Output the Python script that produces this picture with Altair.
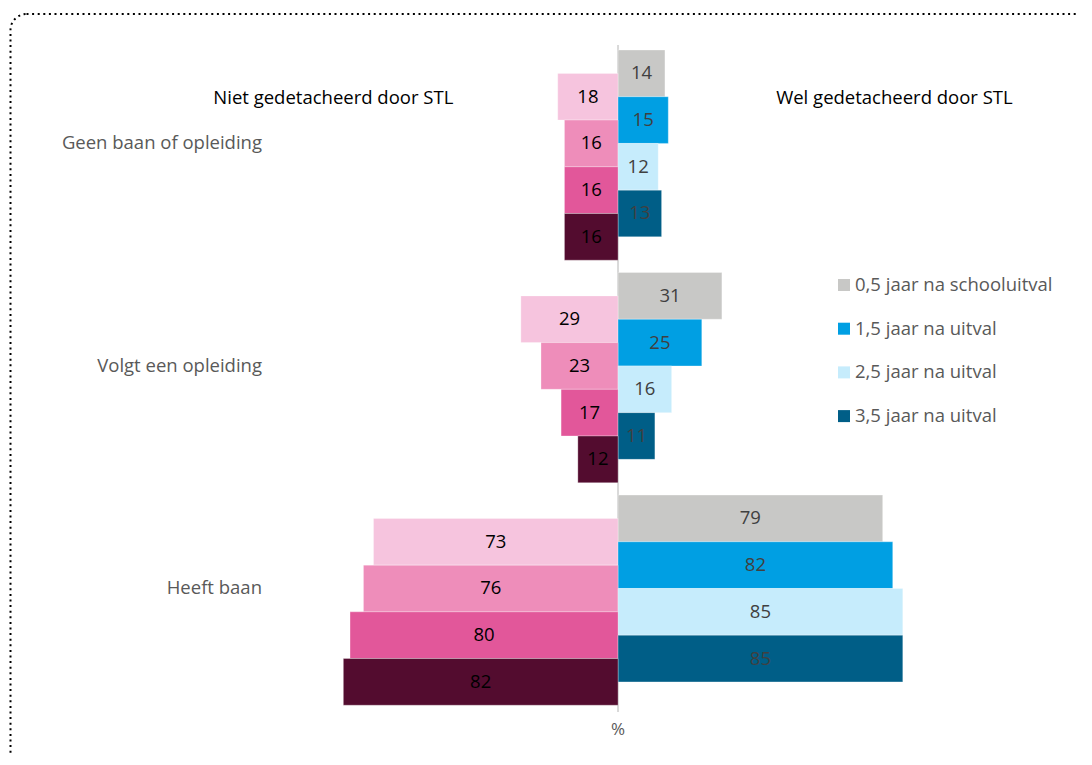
import altair as alt
import pandas as pd

FONT = "Open Sans"
FS = 18.5

categories = ["Geen baan of opleiding", "Volgt een opleiding", "Heeft baan"]
periods = ["0,5 jaar na schooluitval", "1,5 jaar na uitval", "2,5 jaar na uitval", "3,5 jaar na uitval"]
niet_values = [[18, 16, 16, 16], [29, 23, 17, 12], [73, 76, 80, 82]]
wel_values = [[14, 15, 12, 13], [31, 25, 16, 11], [79, 82, 85, 85]]
side_titles = ["Niet gedetacheerd door STL", "Wel gedetacheerd door STL"]
niet_colors = ["#F6C4DE", "#EE8DBA", "#E2579A", "#530C2F"]
wel_colors = ["#C8C8C6", "#009FE3", "#C6ECFC", "#005E87"]
axis_label = "%"

rows = []
for ci, cat in enumerate(categories):
    for pi, per in enumerate(periods):
        rows.append(dict(cat=cat, cat_i=ci, period=per, period_i=pi, side="Wel",
                         shift=0.0, value=wel_values[ci][pi], key=per))
        rows.append(dict(cat=cat, cat_i=ci, period=per, period_i=pi, side="Niet",
                         shift=0.5, value=niet_values[ci][pi], key="Niet " + per))
df = pd.DataFrame(rows)

color_domain = periods + ["Niet " + p for p in periods]
color_range = wel_colors + niet_colors

W, H = 1070, 745
BAR = 46.7
STEP = 4.765
TOP0 = 0.9

xscale = alt.Scale(domain=[-182.1, 137.3], nice=False, zero=False)
yscale = alt.Scale(domain=[0, H / BAR], nice=False, zero=False, reverse=True)
cscale = alt.Scale(domain=color_domain, range=color_range)


def X(f):
    return alt.X(f, scale=xscale, axis=None)


def Y(f):
    return alt.Y(f, scale=yscale, axis=None)


base = alt.Chart(df).transform_calculate(
    signed="datum.side == 'Niet' ? -datum.value : datum.value",
    ytop=f"{TOP0} + datum.cat_i * {STEP} + datum.period_i + datum.shift",
).transform_calculate(
    ybot="datum.ytop + 1",
    ymid="datum.ytop + 0.5",
    half="datum.signed / 2",
    base0="0",
)

bars = base.mark_bar(stroke="#FFFFFF", strokeWidth=0.5, strokeOpacity=0.6).encode(
    x=X("signed:Q"),
    x2="base0:Q",
    y=Y("ytop:Q"),
    y2="ybot:Q",
    color=alt.Color("key:N", scale=cscale, legend=None),
)

labels_niet = base.transform_filter("datum.side == 'Niet'").mark_text(
    fontSize=FS, font=FONT, baseline="middle", color="#000000"
).encode(x=X("half:Q"), y=Y("ymid:Q"), text="value:Q")

labels_wel = base.transform_filter("datum.side == 'Wel'").mark_text(
    fontSize=FS, font=FONT, baseline="middle", color="#404040"
).encode(x=X("half:Q"), y=Y("ymid:Q"), text="value:Q")

cat_df = pd.DataFrame({"cat": categories, "cat_i": list(range(len(categories)))})
cat_labels = alt.Chart(cat_df).transform_calculate(
    ypos=f"{TOP0} + datum.cat_i * {STEP} + 2.0"
).mark_text(fontSize=FS, font=FONT, align="right", baseline="middle", color="#595959").encode(
    x=alt.value(254),
    y=Y("ypos:Q"),
    text="cat:N",
)

title_df = pd.DataFrame({"t": side_titles, "xp": [-85.0, 82.5]})
titles = alt.Chart(title_df).mark_text(fontSize=FS, font=FONT, baseline="middle", color="#000000").encode(
    x=X("xp:Q"),
    y=alt.value(90),
    text="t:N",
)

# legend for the right-side periods
leg_df = pd.DataFrame({"period": periods, "i": list(range(len(periods)))})
leg_base = alt.Chart(leg_df).transform_calculate(ly="277 + datum.i * 43.7")
leg_sym = leg_base.mark_square(size=144, opacity=1).encode(
    x=alt.value(836),
    y=alt.Y("ly:Q", scale=None, axis=None),
    color=alt.Color("period:N", scale=cscale, legend=None),
)
leg_txt = leg_base.mark_text(fontSize=FS, font=FONT, align="left", baseline="middle", color="#595959").encode(
    x=alt.value(847),
    y=alt.Y("ly:Q", scale=None, axis=None),
    text="period:N",
)

zero_df = pd.DataFrame({"x0": [0], "t": [axis_label]})
center_line = alt.Chart(zero_df).mark_rule(color="#D9D9D9", strokeWidth=2).encode(
    x=X("x0:Q"),
    y=alt.value(37),
    y2=alt.value(704),
)

pct = alt.Chart(zero_df).mark_text(
    fontSize=17, font=FONT, color="#595959", baseline="middle"
).encode(x=X("x0:Q"), y=alt.value(722), text="t:N")

border = alt.Chart(zero_df).mark_rect(
    fillOpacity=0, stroke="#000000", strokeWidth=2, strokeDash=[2, 3.6], cornerRadius=16
).encode(
    x=alt.value(2.5), x2=alt.value(1300), y=alt.value(6), y2=alt.value(1300)
)

chart = alt.layer(
    border, center_line, bars, labels_niet, labels_wel, cat_labels, titles, leg_sym, leg_txt, pct
).properties(
    width=W, height=H, padding=0, autosize=alt.AutoSizeParams(type="none"),
    background="white",
).configure_view(stroke=None)

chart.save("out.html", embed_options={"renderer": "svg", "actions": False})
